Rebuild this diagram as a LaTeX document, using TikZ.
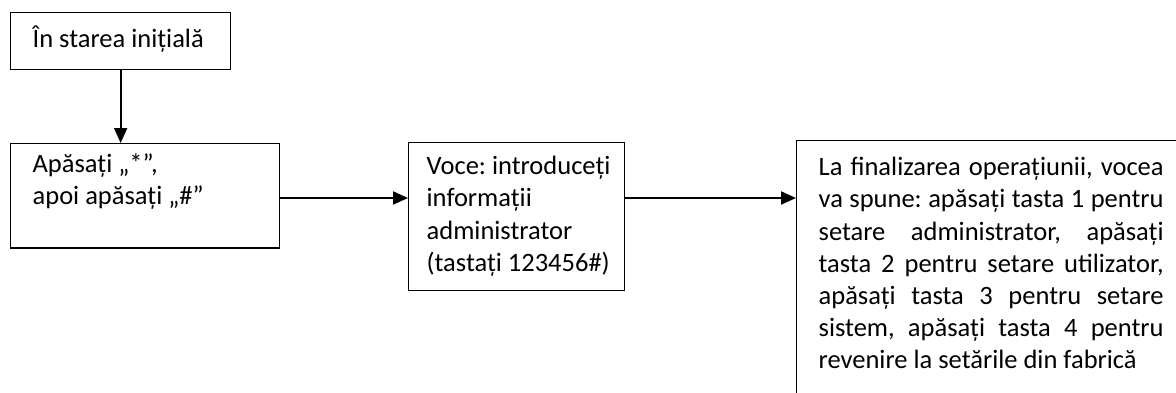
\documentclass[tikz,border=0pt]{standalone}
\usepackage{fontspec}
\setmainfont{Carlito}
\usetikzlibrary{arrows.meta}
\newcommand\myrule[2]{\rule[-#1]{0pt}{#2}}
\frenchspacing
\begin{document}
\begin{tikzpicture}[x=1pt,y=-1pt,
  box/.style={draw, line width=1.3pt, anchor=north west, inner xsep=22pt, inner ysep=9pt,
    align=justify, font=\fontsize{26.5}{32.2}\selectfont\frenchspacing},
  arr/.style={line width=2pt, -{Triangle[length=15pt,width=13pt]}}]
\useasboundingbox (0,0) rectangle (1176,392);
\clip (0,0) rectangle (1176,392);

\node[box, text width=176pt] (b1) at (10,12)
  {\myrule{13pt}{39pt}\makebox[176pt][l]{În starea inițială}};

\node[box, text width=225pt] (b2) at (10,143)
  {\rule{0pt}{20pt}\makebox[225pt][l]{Apăsați „*”,}\\
   \makebox[225pt][l]{apoi apăsați „\#”}\myrule{34pt}{0pt}};

\node[box, inner xsep=18pt, text width=180pt] (b3) at (408,142)
  {\rule{0pt}{23pt}\makebox[180pt][l]{Voce: introduceți}\\
   \makebox[180pt][l]{informații}\\
   \makebox[180pt][l]{administrator}\\
   \makebox[180pt][l]{(tastați 123456\#)}\myrule{10pt}{0pt}};

\node[box, text width=345pt] (b4) at (796,140)
  {\rule{0pt}{26pt}\makebox[345pt][s]{La finalizarea operațiunii, vocea}\\
   \makebox[345pt][s]{va spune: apăsați tasta 1 pentru}\\
   \makebox[345pt][s]{setare administrator, apăsați}\\
   \makebox[345pt][s]{tasta 2 pentru setare utilizator,}\\
   \makebox[345pt][s]{apăsați tasta 3 pentru setare}\\
   \makebox[345pt][s]{sistem, apăsați tasta 4 pentru}\\
   \makebox[345pt][l]{revenire la setările din fabrică}\myrule{40pt}{0pt}};

\coordinate (lvl) at (0,198);
\draw[arr] (b1.south) -- (b1.south |- b2.north);
\draw[arr] (b2.east |- lvl) -- (b3.west |- lvl);
\draw[arr] (b3.east |- lvl) -- (b4.west |- lvl);
\end{tikzpicture}
\end{document}
